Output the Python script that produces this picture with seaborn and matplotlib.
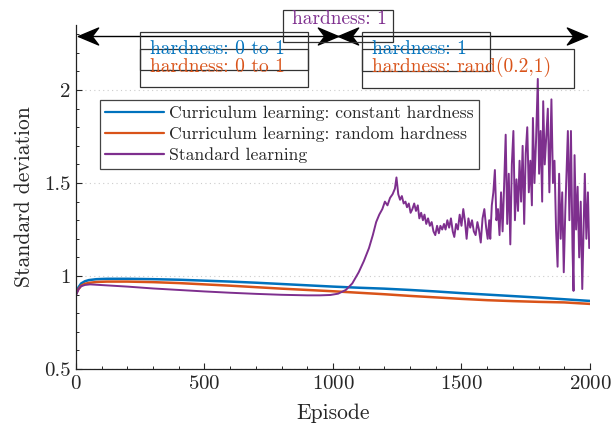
import numpy as np
import pandas as pd
import matplotlib
matplotlib.use("Agg")
import matplotlib.pyplot as plt
from matplotlib.patches import Rectangle
from matplotlib.lines import Line2D
from matplotlib.path import Path
from matplotlib.ticker import MultipleLocator, FuncFormatter
import seaborn as sns

# ---- data -------------------------------------------------------------
const_episode = [0, 10, 20, 35, 50, 80, 120, 200, 300, 400, 500, 600, 700,
                 800, 900, 1000, 1100, 1200, 1300, 1400, 1500, 1600, 1700,
                 1800, 1900, 2000]
const_std = [0.905, 0.94, 0.96, 0.972, 0.978, 0.983, 0.985, 0.985, 0.983,
             0.980, 0.975, 0.970, 0.964, 0.957, 0.950, 0.943, 0.937, 0.932,
             0.925, 0.917, 0.908, 0.900, 0.892, 0.884, 0.875, 0.866]

rand_episode = [0, 10, 20, 35, 50, 80, 120, 200, 300, 400, 500, 600, 700,
                800, 900, 1000, 1100, 1200, 1300, 1400, 1500, 1600, 1700,
                1800, 1900, 2000]
rand_std = [0.905, 0.93, 0.948, 0.958, 0.963, 0.968, 0.970, 0.970, 0.967,
            0.962, 0.955, 0.948, 0.940, 0.932, 0.925, 0.918, 0.910, 0.902,
            0.893, 0.885, 0.877, 0.870, 0.865, 0.861, 0.858, 0.850]

std_episode = [
    0, 10, 20, 35, 55, 80, 120, 200, 300, 400,
    500, 600, 700, 800, 900, 950, 990, 1020, 1050, 1075,
    1100, 1120, 1140, 1155, 1168, 1180, 1192, 1202, 1212, 1222,
    1232, 1241, 1247, 1254, 1261, 1268, 1275, 1282, 1288, 1295,
    1302, 1309, 1316, 1323, 1330, 1336, 1343, 1350, 1356, 1363,
    1370, 1377, 1384, 1391, 1398, 1405, 1412, 1418, 1425, 1432,
    1438, 1445, 1452, 1459, 1466, 1472, 1479, 1486, 1493, 1500,
    1507, 1514, 1520, 1527, 1534, 1541, 1548, 1555, 1562, 1568,
    1575, 1582, 1589, 1596, 1602, 1608, 1612, 1618, 1624, 1630,
    1636, 1642, 1648, 1654, 1660, 1666, 1672, 1678, 1684, 1690,
    1696, 1702, 1708, 1714, 1720, 1726, 1732, 1738, 1744, 1750,
    1756, 1762, 1768, 1774, 1778, 1784, 1790, 1797, 1802, 1808,
    1814, 1818, 1824, 1830, 1836, 1842, 1846, 1850, 1856, 1862,
    1868, 1874, 1880, 1886, 1892, 1898, 1904, 1910, 1914, 1920,
    1926, 1932, 1936, 1940, 1946, 1952, 1958, 1964, 1970, 1976,
    1980, 1986, 1992, 1997,
]
std_std = [
    0.895, 0.93, 0.945, 0.952, 0.955, 0.953, 0.950, 0.943, 0.933, 0.925,
    0.917, 0.910, 0.904, 0.899, 0.896, 0.896, 0.898, 0.905, 0.925, 0.96,
    1.02, 1.08, 1.15, 1.22, 1.29, 1.33, 1.36, 1.40, 1.38, 1.42,
    1.44, 1.47, 1.53, 1.44, 1.41, 1.43, 1.39, 1.40, 1.37, 1.39,
    1.34, 1.36, 1.39, 1.35, 1.38, 1.31, 1.34, 1.30, 1.33, 1.28,
    1.31, 1.27, 1.29, 1.24, 1.22, 1.27, 1.23, 1.27, 1.25, 1.28,
    1.25, 1.30, 1.26, 1.31, 1.24, 1.21, 1.28, 1.25, 1.33, 1.27,
    1.36, 1.29, 1.20, 1.31, 1.26, 1.30, 1.24, 1.22, 1.29, 1.25,
    1.18, 1.31, 1.36, 1.26, 1.20, 1.30, 1.20, 1.38, 1.45, 1.57,
    1.30, 1.36, 1.22, 1.45, 1.24, 1.49, 1.76, 1.28, 1.55, 1.17,
    1.60, 1.78, 1.30, 1.52, 1.35, 1.62, 1.40, 1.70, 1.28, 1.66,
    1.80, 1.45, 1.62, 1.38, 1.85, 1.50, 1.72, 2.06, 1.55, 1.78,
    1.40, 1.94, 1.60, 1.75, 1.90, 1.45, 1.70, 1.95, 1.50, 1.62,
    1.25, 1.05, 1.55, 1.20, 1.45, 1.02, 1.35, 1.60, 1.78, 1.30,
    1.78, 1.15, 0.92, 1.65, 1.25, 1.48, 1.10, 1.40, 0.93, 1.30,
    1.55, 1.20, 1.45, 1.15,
]

series_labels = ["Curriculum learning: constant hardness",
                 "Curriculum learning: random hardness",
                 "Standard learning"]
series_colors = ["#0072BD", "#D95319", "#7E2F8E"]

x_ticks = [0, 500, 1000, 1500, 2000]
y_ticks = [0.5, 1, 1.5, 2]

# ---- style ------------------------------------------------------------
sns.set_theme(style="ticks")
plt.rcParams.update({
    "font.family": "serif",
    "font.serif": ["cmr10", "DejaVu Serif"],
    "mathtext.fontset": "cm",
    "axes.formatter.use_mathtext": True,
    "axes.unicode_minus": False,
    "xtick.direction": "in",
    "ytick.direction": "in",
    "axes.edgecolor": "#222222",
    "axes.linewidth": 0.9,
})

fig = plt.figure(figsize=(6.12, 4.30), dpi=100)
ax = fig.add_axes([0.1242, 0.1419, 0.8398, 0.8000])

frames = [
    pd.DataFrame({"Episode": const_episode, "std": const_std}),
    pd.DataFrame({"Episode": rand_episode, "std": rand_std}),
    pd.DataFrame({"Episode": std_episode, "std": std_std}),
]
widths = [1.8, 1.8, 1.4]
for df, col, lw in zip(frames, series_colors, widths):
    sns.lineplot(data=df, x="Episode", y="std", color=col, linewidth=lw,
                 estimator=None, sort=False, ax=ax, legend=False)

ax.set_xlim(0, 2000)
ax.set_ylim(0.5, 2.35)
ax.set_xticks(x_ticks)
ax.set_yticks(y_ticks)
ax.xaxis.set_minor_locator(MultipleLocator(100))
ax.yaxis.set_minor_locator(MultipleLocator(0.1))
ax.yaxis.set_major_formatter(FuncFormatter(lambda v, p: f"{v:g}"))
ax.tick_params(which="major", length=4, width=0.8, labelsize=15, pad=4)
ax.tick_params(which="minor", length=2.5, width=0.7)
sns.despine(ax=ax)
ax.grid(axis="y", linestyle=(0, (1, 3)), color="#cccccc", linewidth=0.8)
ax.set_axisbelow(True)

ax.set_xlabel("Episode", fontsize=15.5, labelpad=8)
ax.set_ylabel("Standard deviation", fontsize=15.5, labelpad=7)

handles = [Line2D([], [], color=c, lw=1.6) for c in series_colors]
leg = ax.legend(handles, series_labels, loc="upper left",
                bbox_to_anchor=(0.047, 0.782), fontsize=12.7,
                handlelength=3.3, handletextpad=0.3, labelspacing=0.3,
                borderpad=0.3, borderaxespad=0, fancybox=False,
                framealpha=1, edgecolor="#444444")
leg.get_frame().set_linewidth(0.9)

# ---- phase arrows (stealth heads) -------------------------------------
arrow_y = 2.29
head_right = Path([(0, 0), (-1, 0.42), (-0.68, 0), (-1, -0.42), (0, 0)],
                  [Path.MOVETO, Path.LINETO, Path.LINETO, Path.LINETO,
                   Path.CLOSEPOLY])
head_left = Path([(0, 0), (1, 0.42), (0.68, 0), (1, -0.42), (0, 0)],
                 [Path.MOVETO, Path.LINETO, Path.LINETO, Path.LINETO,
                  Path.CLOSEPOLY])
ax.plot([8, 1988], [arrow_y, arrow_y], color="black", lw=1.0,
        clip_on=False, zorder=4)
head_kw = dict(color="black", markersize=29, linestyle="none",
               clip_on=False, zorder=4)
ax.plot([1020, 1988], [arrow_y, arrow_y], marker=head_right, **head_kw)
ax.plot([8, 1020], [arrow_y, arrow_y], marker=head_left, **head_kw)

# ---- phase annotation boxes -------------------------------------------
box_style = dict(fill=False, edgecolor="#333333", linewidth=0.9,
                 clip_on=False, zorder=5)
boxes = [
    (249, 2.108, 653, 0.204),
    (249, 2.016, 653, 0.204),
    (805, 2.258, 428, 0.172),
    (1112, 2.102, 498, 0.210),
    (1112, 2.011, 824, 0.209),
]
for bx, by, bw, bh in boxes:
    ax.add_patch(Rectangle((bx, by), bw, bh, **box_style))

txt_kw = dict(fontsize=14, va="center", ha="left", clip_on=False, zorder=6)
ax.text(288, 2.222, "hardness: 0 to 1", color=series_colors[0], **txt_kw)
ax.text(288, 2.125, "hardness: 0 to 1", color=series_colors[1], **txt_kw)
ax.text(840, 2.382, "hardness: 1", color=series_colors[2], **txt_kw)
ax.text(1151, 2.222, "hardness: 1", color=series_colors[0], **txt_kw)
ax.text(1151, 2.125, "hardness: rand(0.2,1)", color=series_colors[1], **txt_kw)

fig.savefig("out.png", dpi=100)
